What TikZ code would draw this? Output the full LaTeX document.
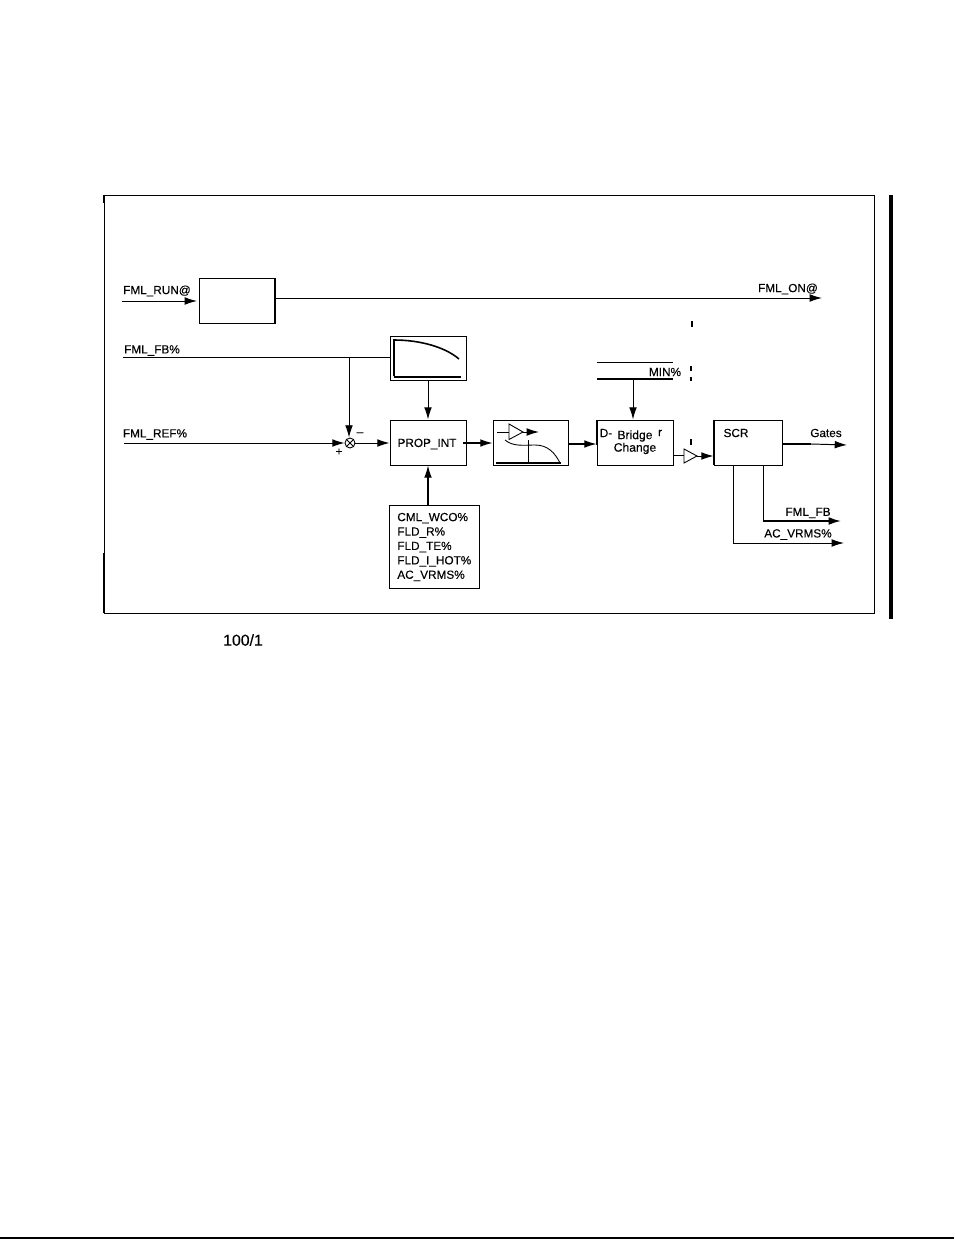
\documentclass[tikz,border=0pt]{standalone}
\usepackage{fontspec}
\usepackage{tikz}
\usetikzlibrary{arrows.meta}
\setmainfont{Liberation Sans}
\tikzset{
    blockbox/.style={draw, black, line width=0.5pt, inner sep=0pt},
    signal/.style={black, line width=0.55pt},
    signalto/.style={signal, -{Latex[length=7pt,width=4.4pt]}},
    txt/.style={inner sep=0pt, font=\fontsize{6.7}{8.2}\selectfont\addfontfeatures{FakeBold=0.25}},
    bridgetxt/.style={inner sep=0pt, font=\fontsize{6.9}{8}\selectfont\addfontfeatures{FakeBold=0.25}},
    ampl/.style={draw, black, line width=0.5pt}
}

\begin{document}
\begin{tikzpicture}[x=0.02cm, y=-0.02cm]
    \useasboundingbox (0,0) rectangle (954,1240);
    % outer frame
    \node[blockbox, minimum width=15.42cm, minimum height=8.36cm] (frame) at (489.5,404) {};
    \draw[black, line width=1pt] (frame.south west) -- ++(0,-60);
    \draw[black, line width=1pt] (frame.north west) -- ++(0,8);
    \draw[black, line width=2.6pt] (891,195) -- (891,619);
    \draw[black, line width=0.8pt] (0,1238) -- (954,1238);
    % blocks
    \node[blockbox, minimum width=1.52cm, minimum height=0.9cm] (runbox) at (237,300.5) {};
    \node[blockbox, minimum width=1.52cm, minimum height=0.88cm] (curvebox) at (428,358) {};
    \node[blockbox, minimum width=1.52cm, minimum height=0.9cm] (propbox) at (428,442.5) {};
    \node[blockbox, minimum width=1.5cm, minimum height=0.9cm] (limitbox) at (530.5,442.5) {};
    \node[blockbox, minimum width=1.52cm, minimum height=0.9cm] (bridgebox) at (635,442.5) {};
    \node[blockbox, minimum width=1.36cm, minimum height=0.9cm] (scrbox) at (748,442.5) {};
    \node[blockbox, minimum width=1.8cm, minimum height=1.66cm] (listbox) at (434,546.5) {};
    \node[draw, circle, black, line width=0.5pt, minimum size=0.2cm, inner sep=0pt] (sum) at (350,443) {};
    \draw[black, line width=0.5pt] (sum.north west) -- (sum.south east);
    \draw[black, line width=0.5pt] (sum.north east) -- (sum.south west);
    \draw[black, line width=0.9pt] (275,278) -- (275,323);
    \draw[black, line width=0.9pt] (597,420) -- (597,445);
    \draw[black, line width=0.9pt] (714,420) -- (714,465);
    % texts
    \node[txt] (propt) at (427,444) {PROP\_INT};
    \node[txt, anchor=west, align=left] (listt) at (397,547) {CML\_WCO\%\\FLD\_R\%\\FLD\_TE\%\\FLD\_I\_HOT\%\\AC\_VRMS\%};
    \node[txt] (scrt) at (736,433) {SCR};
    \node[txt] (dt) at (606,433) {D-};
    \node[txt] (rt) at (660,433) {r};
    \node[bridgetxt] (bridget) at (635,436) {Bridge};
    \node[bridgetxt] (changet) at (635,448.5) {Change};
    \node[txt] (runt) at (157,291) {FML\_RUN@};
    \node[txt] (fbt) at (152,350.5) {FML\_FB\%};
    \node[txt] (reft) at (155,434.5) {FML\_REF\%};
    \node[txt] (ont) at (788,289) {FML\_ON@};
    \node[txt] (mint) at (665,372) {MIN\%};
    \node[txt] (gatest) at (826,433) {Gates};
    \node[txt] (fmlt) at (808,513) {FML\_FB};
    \node[txt] (vrmst) at (798,534.5) {AC\_VRMS\%};
    \node[txt] (minus) at (360,434) {--};
    \node[txt] (plus) at (339,452) {+};
    \node[inner sep=0pt, font=\fontsize{9}{10}\selectfont\addfontfeatures{FakeBold=0.2}] (paget) at (243,640) {100/1};
    % free ends
    \coordinate (runin) at (122,301);
    \coordinate (runbin) at (197,301);
    \coordinate (onout) at (822,298);
    \coordinate (fbin) at (123,357);
    \coordinate (fbtap) at (349,357);
    \coordinate (refin) at (124,443);
    \coordinate (gatemid) at (811,444);
    \coordinate (gateout) at (847,445);
    \coordinate (fbmid) at (763,521);
    \coordinate (fbout) at (841,521);
    \coordinate (vrmsout) at (844,543);
    \coordinate (mintap) at (633,379);
    % connectors
    \draw[signalto] (runin) -- (runbin);
    \draw[signalto] (runbox.east |- onout) -- (onout);
    \draw[signal] (fbin) -- (fbin -| curvebox.west);
    \draw[signalto] (fbtap) -- (sum.north -| fbtap);
    \draw[signalto] (refin) -- (sum.west);
    \draw[signalto] (sum.east) -- (propbox.west |- sum.east);
    \draw[signalto] (curvebox.south) -- (propbox.north);
    \draw[signalto, line width=0.7pt] (listbox.north -| propbox.south) -- (propbox.south);
    \draw[signalto, line width=0.7pt] (463,443) -- (limitbox.west |- 0,443);
    \draw[signalto, line width=0.7pt] (limitbox.east |- 0,444) -- (bridgebox.west |- 0,444);
    \draw[black, line width=0.9pt] (scrbox.east |- gatemid) -- (gatemid);
    \draw[signalto] (gatemid) -- (gateout);
    \draw[signal] (scrbox.south -| fbmid) -- (fbmid);
    \draw[signalto, line width=0.9pt] (fbmid) -- (fbout);
    \draw[signalto] (scrbox.south -| 733.5,0) |- (vrmsout);
    % min limit lines
    \coordinate (mintop) at (597,362);
    \coordinate (minbot) at (673,379);
    \draw[signal] (mintop) -- (673,362);
    \draw[black, line width=0.9pt] (597,379) -- (minbot);
    \draw[signalto] (mintap) -- (mintap |- bridgebox.north);
    % amplifiers
    \draw[ampl] (509,424) -- (523,432) -- (509,439.5) -- cycle;
    \draw[signal] (497,432) -- (509,432);
    \draw[signalto] (523,432) -- (539,432);
    \draw[ampl] (684,449) -- (697,456) -- (684,463) -- cycle;
    \draw[signal] (bridgebox.east |- 0,455) -- (684,455);
    \draw[signalto] (697,456) -- (scrbox.west |- 0,456);
    % small curves
    \draw[black, line width=0.9pt] (394,376) -- (394,340) .. controls (420,340) and (445,347) .. (459,359);
    \draw[black, line width=0.9pt] (394,377) -- (461,377);
    \draw[black, line width=0.5pt] (505,440) .. controls (513,447) and (525,445) .. (535,445) .. controls (548,445) and (555,453) .. (560,463);
    \draw[black, line width=0.5pt] (528,440) -- (528,463);
    \draw[black, line width=0.6pt] (496,463) -- (561,463);
    % dash marks
    \draw[black, line width=1pt] (692,321) -- (692,327);
    \draw[black, line width=1pt] (691,366) -- (691,371);
    \draw[black, line width=1pt] (691,377) -- (691,381);
    \draw[black, line width=1pt] (691,439) -- (691,445);
\end{tikzpicture}
\end{document}
